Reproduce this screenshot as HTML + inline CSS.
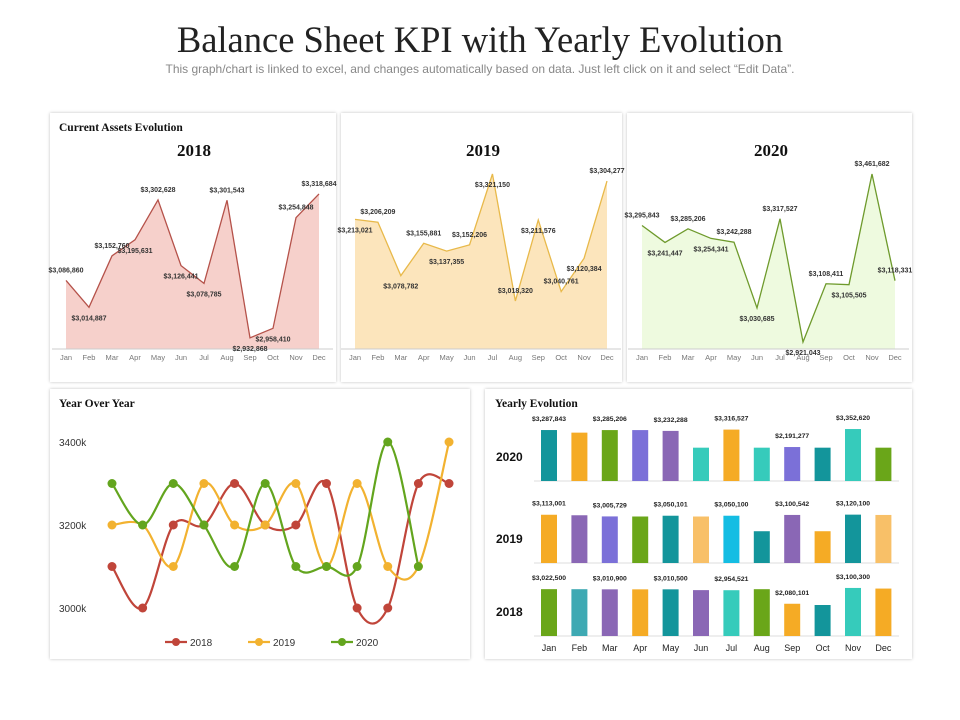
<!DOCTYPE html>
<html><head><meta charset="utf-8">
<style>
body{margin:0;background:#fff;width:960px;height:720px;overflow:hidden;font-family:"Liberation Sans",sans-serif}
.panel{position:absolute;background:#fff;box-shadow:0 0 3px rgba(0,0,0,0.25)}
</style></head>
<body>
<div style="position:absolute;left:0;width:960px;top:18px;text-align:center;font-family:'Liberation Serif',serif;font-size:36.5px;color:#222">Balance Sheet KPI with Yearly Evolution</div>
<div style="position:absolute;left:0;width:960px;top:62px;text-align:center;font-size:12px;color:#888">This graph/chart is linked to excel, and changes automatically based on data. Just left click on it and select “Edit Data”.</div>
<div class="panel" style="left:50px;top:113px;width:286px;height:269px"></div>
<div class="panel" style="left:341px;top:113px;width:281px;height:269px"></div>
<div class="panel" style="left:627px;top:113px;width:285px;height:269px"></div>
<div class="panel" style="left:50px;top:389px;width:420px;height:270px"></div>
<div class="panel" style="left:485px;top:389px;width:427px;height:270px"></div>
<svg id="svg" width="960" height="720" style="position:absolute;left:0;top:0"></svg>
<script>
const months=["Jan","Feb","Mar","Apr","May","Jun","Jul","Aug","Sep","Oct","Nov","Dec"];
const assets2018=[3086860,3014887,3152760,3195631,3302628,3126441,3078785,3301543,2932868,2958410,3254848,3318684];
const assets2019=[3213021,3206209,3078782,3155881,3137355,3152206,3321150,3018320,3211576,3040761,3120384,3304277];
const assets2020=[3295843,3241447,3285206,3254341,3242288,3030685,3317527,2921043,3108411,3105505,3461682,3118331];
const yoy2018=[3100,3000,3200,3200,3300,3200,3200,3300,3000,3000,3300,3300];
const yoy2019=[3200,3200,3100,3300,3200,3200,3300,3100,3300,3100,3100,3400];
const yoy2020=[3300,3200,3300,3200,3100,3300,3100,3100,3100,3400,3100,null];
const yoyTicks=[3000,3200,3400];
const bars2020=[3287843,3120000,3285206,3285000,3232288,2150000,3316527,2150000,2191277,2150000,3352620,2150000];
const bars2019=[3113001,3080000,3005729,3000000,3050101,3000000,3050100,2050000,3100542,2050000,3120100,3100000];
const bars2018=[3022500,3020000,3010900,3010000,3010500,2960000,2954521,3020000,2080101,2000000,3100300,3060000];
const barLabelShown=[true,false,true,false,true,false,true,false,true,false,true,false];

const S=document.getElementById('svg');const NS='http://www.w3.org/2000/svg';
function el(t,a,txt){const e=document.createElementNS(NS,t);for(const k in a)e.setAttribute(k,a[k]);if(txt!=null)e.textContent=txt;S.appendChild(e);return e;}
function fmt(v){return '$'+v.toLocaleString('en-US');}

function area(data,x0,x1,base,top,vmin,vmax,line,fill,pos,name,year,titleX){
  const X=i=>x0+(x1-x0)*i/(data.length-1);
  const Y=v=>base-(v-vmin)/(vmax-vmin)*(base-top);
  let d='M'+X(0)+','+base;data.forEach((v,i)=>d+=' L'+X(i)+','+Y(v));d+=' L'+X(data.length-1)+','+base+'Z';
  let a=el('path',{d,fill});
  
  
  let l='';data.forEach((v,i)=>l+=(i?' L':'M')+X(i)+','+Y(v));
  let p=el('path',{d:l,fill:'none',stroke:line,'stroke-width':1.3});
  
  
  let ax=el('line',{x1:x0-14,x2:x1+14,y1:base,y2:base,stroke:'#ccc'});
  
  
  data.forEach((v,i)=>{
    const up=pos[i]==='a';
    let t=el('text',{x:X(i),y:Y(v)+(up?-8:13),'font-size':7,'text-anchor':'middle',fill:'#333','font-weight':'bold'},fmt(v));
    
    
    let m=el('text',{x:X(i),y:base+11,'font-size':7.5,'text-anchor':'middle',fill:'#777'},months[i]);
    
    
  });
  let tt=el('text',{x:titleX,y:156,'font-size':17,'font-weight':'bold','text-anchor':'middle','font-family':'Liberation Serif,serif',fill:'#111'},year);
  
  
}
const h1=el('text',{x:59,y:131,'font-size':11.5,'font-weight':'bold','font-family':'Liberation Serif,serif',fill:'#111'},'Current Assets Evolution');

area(assets2018,66,319,349,174,2903000,3372000,'#b5524a','#f6d0cb','abababbabbaa'.split(''),'chart-2018','2018',194);
area(assets2019,355,607,349,174,2903800,3321150,'#e8b94a','#fce5bc','babababababa'.split(''),'chart-2019','2019',483);
area(assets2020,642,895,349,174,2898500,3461682,'#6e9a2c','#eefadf','abababababaa'.split(''),'chart-2020','2020',771);

const h2=el('text',{x:59,y:407,'font-size':11.5,'font-weight':'bold','font-family':'Liberation Serif,serif',fill:'#111'},'Year Over Year');

const YX=i=>112+i*30.64, YY=v=>608-(v-3000)*(166/400);
yoyTicks.forEach(t=>{let e=el('text',{x:59,y:YY(t)+4,'font-size':10,fill:'#333'},t+'k');});
function smooth(pts){let d='M'+pts[0][0]+','+pts[0][1];for(let i=0;i<pts.length-1;i++){const p0=pts[i-1]||pts[i],p1=pts[i],p2=pts[i+1],p3=pts[i+2]||p2;
 d+=` C${p1[0]+(p2[0]-p0[0])/6},${p1[1]+(p2[1]-p0[1])/6} ${p2[0]-(p3[0]-p1[0])/6},${p2[1]-(p3[1]-p1[1])/6} ${p2[0]},${p2[1]}`;}return d;}
[[yoy2018,'#c0453a','2018'],[yoy2019,'#f2b230','2019'],[yoy2020,'#63a51e','2020']].forEach(([arr,c,n])=>{
  const pts=[];arr.forEach((v,i)=>{if(v!=null)pts.push([YX(i),YY(v)]);});
  let p=el('path',{d:smooth(pts),fill:'none',stroke:c,'stroke-width':2.2});
  
  pts.forEach(q=>{let m=el('circle',{cx:q[0],cy:q[1],r:4.5,fill:c});});
});
[['2018','#c0453a',165],['2019','#f2b230',248],['2020','#63a51e',331]].forEach(([n,c,x])=>{
  let l=el('line',{x1:x,x2:x+22,y1:642,y2:642,stroke:c,'stroke-width':2.2});
  let m=el('circle',{cx:x+11,cy:642,r:4,fill:c});
  let t=el('text',{x:x+25,y:646,'font-size':10,fill:'#333'},n);
});

const h3=el('text',{x:495,y:407,'font-size':11.5,'font-weight':'bold','font-family':'Liberation Serif,serif',fill:'#111'},'Yearly Evolution');

const BX=i=>549+i*30.4, K=1.55e-5;
const cols2020=['#13959b','#f5ab25','#6aa619','#7b70d8','#8a67b5','#36cbbb','#f5ab25','#36cbbb','#7b70d8','#13959b','#36cbbb','#6aa619'];
const cols2019=['#f5ab25','#8a67b5','#7b70d8','#6aa619','#13959b','#f8c068','#14bde3','#13959b','#8a67b5','#f5ab25','#13959b','#f8c068'];
const cols2018=['#6aa619','#3ea9b3','#8a67b5','#f5ab25','#13959b','#8a67b5','#36cbbb','#6aa619','#f5ab25','#13959b','#36cbbb','#f5ab25'];
[[bars2020,cols2020,481,'2020'],[bars2019,cols2019,563,'2019'],[bars2018,cols2018,636,'2018']].forEach(([arr,cols,base,n])=>{
  let ax=el('line',{x1:534,x2:899,y1:base,y2:base,stroke:'#ddd'});
  let yl=el('text',{x:496,y:base-20,'font-size':12,'font-weight':'bold',fill:'#111'},n);
  arr.forEach((v,i)=>{const h=v*K;
    let r=el('rect',{x:BX(i)-8,y:base-h,width:16,height:h,fill:cols[i]});
    
    if(barLabelShown[i]){let t=el('text',{x:BX(i),y:base-h-9,'font-size':6.8,'font-weight':'bold','text-anchor':'middle',fill:'#222'},fmt(v));
      }
  });
});
months.forEach((m,i)=>{let t=el('text',{x:BX(i),y:651,'font-size':9,'text-anchor':'middle',fill:'#222'},m);});
</script>
</body></html>
